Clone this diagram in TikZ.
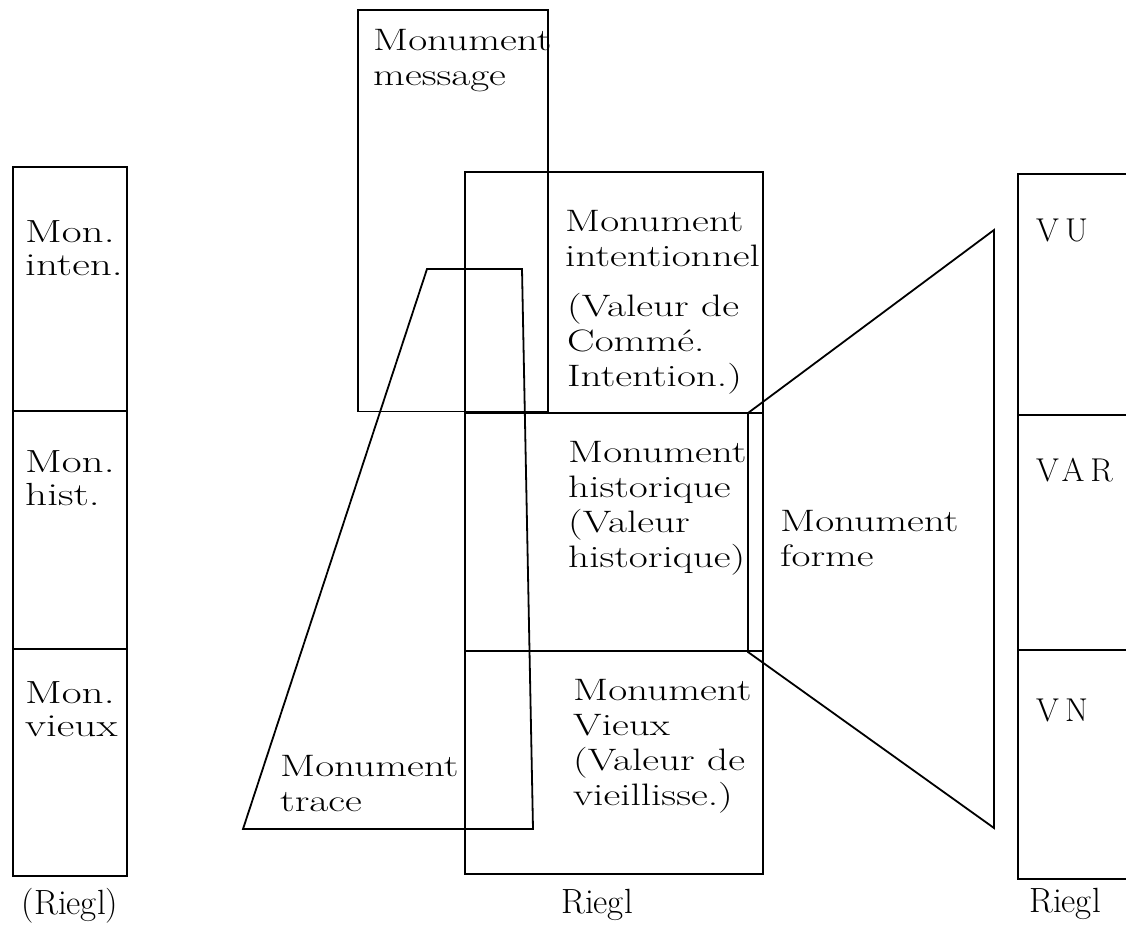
\documentclass[tikz,border=0pt]{standalone}
\usepackage{graphicx}
\usepackage{fontspec}
\setmainfont{Latin Modern Roman}
\newfontfamily\widefont[LetterSpace=18]{Latin Modern Roman}
\newcommand\midtxt{\fontsize{31}{35}\selectfont}
\newcommand\sidetxt{\fontsize{32}{33}\selectfont}
\newcommand\valtxt{\widefont\fontsize{33}{33}\selectfont}
\newcommand\captxt{\fontsize{35}{36}\selectfont}
\newcommand\stk[2][1.33]{\scalebox{#1}[1]{\begin{tabular}[t]{@{}l@{}}#2\end{tabular}}}
\begin{document}
\begin{tikzpicture}[x=1pt,y=-1pt,
  frame/.style={line width=1.4pt},
  trap/.style={line width=1.8pt, line join=miter},
  lbl/.style={anchor=base west, inner sep=0pt, font=\midtxt},
  side/.style={anchor=base west, inner sep=0pt, font=\sidetxt},
  val/.style={anchor=base west, inner sep=0pt, font=\valtxt},
  capt/.style={anchor=base, inner sep=0pt, font=\captxt}]
\useasboundingbox (0,0) rectangle (1126,924);
% left column
\draw[frame] (13,167) rectangle (127,876);
\draw[frame] (13,411) -- (127,411);
\draw[frame] (13,649) -- (127,649);
\node[side] (li) at (25,242) {\stk[1.35]{Mon.\\inten.}};
\node[side] (lh) at (25,472) {\stk[1.35]{Mon.\\hist.}};
\node[side] (lv) at (25,703) {\stk[1.35]{Mon.\\vieux}};
\node[capt] (lr) at (70,914) {(Riegl)};
% message box
\draw[frame] (358,10) rectangle (548,411.5);
\node[lbl] (msg) at (373,50) {\stk{Monument\\message}};
% middle box
\draw[frame] (465,172) rectangle (763,874);
\draw[frame] (465,413) -- (763,413);
\draw[frame] (465,651) -- (763,651);
\node[lbl] (mi) at (565,231) {\stk{Monument\\intentionnel}};
\node[lbl] (mic) at (567,316) {\stk{(Valeur de\\Commé.\\Intention.)}};
\node[lbl] (mh) at (568,462) {\stk{Monument\\historique\\(Valeur\\historique)}};
\node[lbl] (mv) at (573,700) {\stk{Monument\\Vieux\\(Valeur de\\vieillisse.)}};
\node[capt] (mr) at (597,913) {Riegl};
% trace trapezoid
\draw[trap] (427,269) -- (522,269) -- (533,829) -- (243,829) -- cycle;
\node[lbl] (tr) at (280,776) {\stk{Monument\\trace}};
% forme trapezoid
\draw[trap] (748,413) -- (994,230) -- (994,828) -- (748,652) -- cycle;
\node[lbl] (fo) at (780,531) {\stk{Monument\\forme}};
% right column
\draw[frame] (1127,174) -- (1018,174) -- (1018,879) -- (1127,879);
\draw[frame] (1018,415) -- (1127,415);
\draw[frame] (1018,650) -- (1127,650);
\node[val] (vu) at (1036,241) {VU};
\node[val] (var) at (1036,481) {VAR};
\node[val] (vn) at (1036,721) {VN};
\node[capt] (rr) at (1065,912) {Riegl};
\end{tikzpicture}
\end{document}
